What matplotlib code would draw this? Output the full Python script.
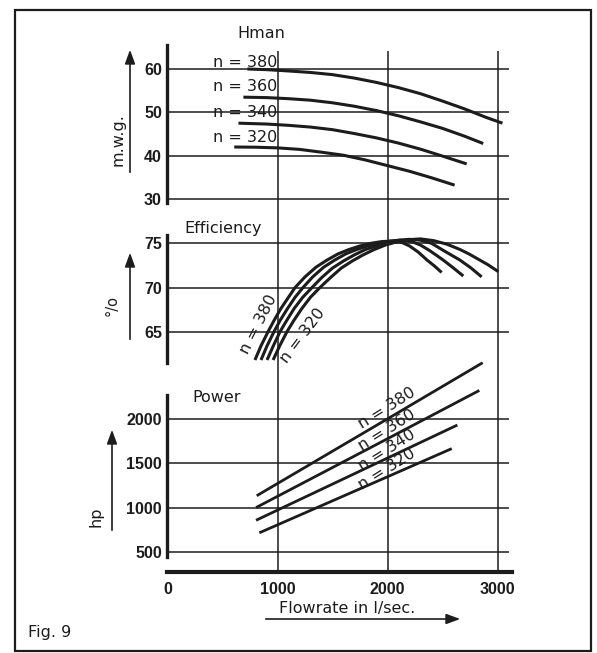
import matplotlib.pyplot as plt
from matplotlib.patches import Rectangle, FancyArrowPatch

# figure size in pixels (dpi 100)
W, H = 597, 653

# ---- data ----
flow_ticks = [0, 1000, 2000, 3000]
speeds = ['380', '360', '340', '320']

# manometric head, m.w.g.
hman_ticks = [30, 40, 50, 60]
hman_q = [
    [726, 900, 1100, 1300, 1500, 1700, 1900, 2100, 2300, 2500, 2700, 2900, 3045],
    [690, 900, 1100, 1300, 1500, 1700, 1900, 2100, 2300, 2500, 2700, 2870],
    [645, 900, 1100, 1300, 1500, 1700, 1900, 2100, 2300, 2500, 2720],
    [607, 800, 1000, 1200, 1400, 1600, 1800, 2000, 2200, 2400, 2610],
]
hman_h = [
    [60.0, 59.85, 59.55, 59.2, 58.7, 57.9, 56.9, 55.7, 54.3, 52.6, 50.8, 48.8, 47.5],
    [53.5, 53.4, 53.15, 52.8, 52.2, 51.4, 50.4, 49.2, 47.8, 46.3, 44.5, 42.8],
    [47.5, 47.3, 47.0, 46.6, 46.0, 45.1, 44.1, 42.9, 41.5, 39.9, 38.1],
    [42.0, 41.95, 41.8, 41.45, 40.8, 40.1, 39.0, 37.7, 36.4, 34.9, 33.2],
]

# efficiency, %
eff_ticks = [65, 70, 75]
eff_q = [
    [795, 850, 914, 970, 1030, 1100, 1160, 1250, 1350, 1450, 1550, 1650,
     1750, 1850, 1950, 2050, 2130, 2200, 2280, 2360, 2430, 2492],
    [850, 905, 968, 1025, 1090, 1160, 1232, 1320, 1420, 1520, 1620, 1720,
     1820, 1920, 2020, 2120, 2220, 2300, 2380, 2450, 2507, 2600, 2689],
    [905, 962, 1023, 1085, 1150, 1230, 1314, 1400, 1500, 1600, 1700, 1800,
     1900, 2000, 2100, 2200, 2300, 2400, 2507, 2590, 2659, 2760, 2856],
    [960, 1020, 1086, 1150, 1220, 1300, 1386, 1480, 1580, 1680, 1780, 1880,
     1980, 2080, 2180, 2300, 2420, 2540, 2659, 2740, 2811, 2910, 3007],
]
eff_e = [
    [61.8, 63.4, 65.0, 66.3, 67.6, 68.9, 70.0, 71.2, 72.3, 73.1, 73.8, 74.3,
     74.7, 75.0, 75.2, 75.25, 75.1, 74.7, 74.0, 73.1, 72.4, 71.7],
    [61.8, 63.4, 65.0, 66.3, 67.6, 68.9, 70.0, 71.2, 72.3, 73.1, 73.8, 74.3,
     74.7, 75.0, 75.25, 75.35, 75.2, 74.8, 74.2, 73.6, 73.1, 72.2, 71.3],
    [61.8, 63.4, 65.0, 66.3, 67.6, 68.9, 70.0, 71.1, 72.2, 73.0, 73.7, 74.3,
     74.7, 75.1, 75.35, 75.45, 75.35, 75.0, 74.2, 73.6, 73.1, 72.2, 71.2],
    [61.8, 63.4, 65.0, 66.3, 67.6, 68.9, 70.0, 71.1, 72.2, 73.0, 73.7, 74.3,
     74.8, 75.15, 75.4, 75.5, 75.3, 74.9, 74.3, 73.8, 73.3, 72.6, 71.8],
]

# power, hp
pow_ticks = [500, 1000, 1500, 2000]
pow_q = [
    [811, 2000, 2865],
    [805, 2000, 2835],
    [805, 2000, 2635],
    [835, 2000, 2584],
]
pow_p = [
    [1134, 2005, 2641],
    [1000, 1780, 2327],
    [856, 1561, 1935],
    [714, 1349, 1668],
]

# ---- layout helpers ----
INK = '#1c1c1c'
NUM = dict(family='Liberation Sans', fontsize=11.5, fontweight='bold', color=INK)
TXT = dict(family='DejaVu Sans', fontsize=11.5, color=INK)

X0, XPX = 167.5, 0.11          # pixel of flow 0, pixels per l/s
XR = 512
XMAX = (XR - X0) / XPX
GRID_END = 3100


def fx(px):
    return px / W


def fy(py):
    return 1 - py / H


fig = plt.figure(figsize=(W / 100, H / 100), dpi=100)
fig.patch.set_facecolor('white')

# base axes: flow axis and vertical grid
base = fig.add_axes([fx(X0), fy(572), (XR - X0) / W, (572 - 51) / H])
base.set_xlim(0, XMAX)
base.set_ylim(0, 1)
for s in ['top', 'left', 'right']:
    base.spines[s].set_visible(False)
base.spines['bottom'].set_linewidth(3)
base.spines['bottom'].set_color(INK)
base.set_yticks([])
base.set_xticks(flow_ticks)
base.set_xticklabels([str(t) for t in flow_ticks], **NUM)
base.tick_params(axis='x', length=0, pad=7)
for t in flow_ticks[1:]:
    base.axvline(t, color=INK, lw=1.1)


def panel(top, bot, v_hi, p_hi, v_lo, p_lo, sp_top, sp_bot, ticks):
    s = (p_lo - p_hi) / (v_hi - v_lo)
    ax = fig.add_axes([fx(X0), fy(bot), (XR - X0) / W, (bot - top) / H])
    ax.set_xlim(0, XMAX)
    ax.set_ylim(v_lo - (bot - p_lo) / s, v_hi + (p_hi - top) / s)
    ax.patch.set_alpha(0)
    for sp in ['top', 'right', 'bottom']:
        ax.spines[sp].set_visible(False)
    ax.spines['left'].set_linewidth(2.4)
    ax.spines['left'].set_color(INK)
    ax.spines['left'].set_bounds(v_hi + (p_hi - sp_bot) / s,
                                 v_hi + (p_hi - sp_top) / s)
    ax.set_xticks([])
    ax.set_yticks(ticks)
    ax.set_yticklabels([str(t) for t in ticks], **NUM)
    ax.tick_params(axis='y', length=0, pad=4)
    ax.hlines(ticks, 0, GRID_END, color=INK, lw=1.1)
    return ax


CURVE = dict(color=INK, solid_capstyle='butt', solid_joinstyle='round')

# Hman
ax1 = panel(40, 205, 60, 69, 30, 199, 45, 203, hman_ticks)
for q, h in zip(hman_q, hman_h):
    ax1.plot(q, h, lw=2.2, **CURVE)
for sp, y in zip(speeds, [61.6, 55.85, 49.85, 44.1]):
    ax1.text(705, y, 'n = ' + sp, ha='center', va='center', **TXT)

# Efficiency
ax2 = panel(230, 366, 75, 243.3, 65, 331.7, 235, 363, eff_ticks)
for q, e in zip(eff_q, eff_e):
    ax2.plot(q, e, lw=2.2, **CURVE)
ax2.text(825, 65.8, 'n = 380', rotation=63, ha='center', va='center',
         rotation_mode='anchor', **TXT)
ax2.text(1227, 64.5, 'n = 320', rotation=53, ha='center', va='center',
         rotation_mode='anchor', **TXT)

# Power
ax3 = panel(350, 560, 2000, 419.3, 500, 551.7, 395, 557, pow_ticks)
for q, p in zip(pow_q, pow_p):
    ax3.plot(q, p, lw=2.0, **CURVE)
for sp, y in zip(speeds, [2126, 1878, 1649, 1439]):
    ax3.text(1993, y, 'n = ' + sp, rotation=32, ha='center', va='center',
             rotation_mode='anchor', **TXT)

# titles
fig.text(fx(261), fy(34), 'Hman', ha='center', va='center', **TXT)
fig.text(fx(223), fy(228), 'Efficiency', ha='center', va='center', **TXT)
fig.text(fx(217), fy(398), 'Power', ha='center', va='center', **TXT)

# axis labels with arrows
fig.text(fx(118), fy(140), 'm.w.g.', rotation=90, ha='center', va='center', **TXT)
fig.text(fx(112), fy(305), '°/o', rotation=90, ha='center', va='center',
         family='DejaVu Sans', fontsize=10.5, color=INK)
fig.text(fx(96), fy(517), 'hp', rotation=90, ha='center', va='center', **TXT)
fig.text(fx(347), fy(608), 'Flowrate in l/sec.', ha='center', va='center', **TXT)
fig.text(fx(28), fy(633), 'Fig. 9', ha='left', va='center', **TXT)

arrow = dict(arrowstyle='-|>,head_length=0.6,head_width=0.22', color=INK, lw=1.2)
for (x1, y1, x2, y2) in [(130, 175, 130, 47), (130, 342, 130, 250),
                         (112, 533, 112, 427), (263, 619, 463, 619)]:
    fig.add_artist(FancyArrowPatch(
        (fx(x1), fy(y1)), (fx(x2), fy(y2)), transform=fig.transFigure,
        mutation_scale=14, **arrow))

# outer frame
fig.add_artist(Rectangle((fx(15), fy(651)), (591 - 15) / W, (651 - 9.5) / H,
                         transform=fig.transFigure, fill=False, lw=1.6,
                         edgecolor=INK))

fig.savefig('out.png', dpi=100)
